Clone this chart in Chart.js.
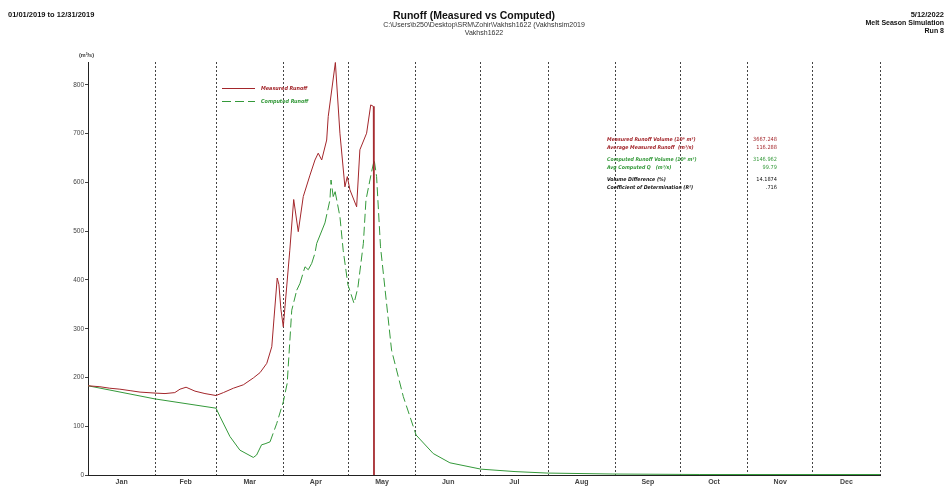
<!DOCTYPE html>
<html>
<head>
<meta charset="utf-8">
<script src="https://cdn.jsdelivr.net/npm/chart.js@4/dist/chart.umd.min.js"></script>
<style>
  html, body { margin: 0; padding: 0; background: #fff; }
  #wrap { position: relative; width: 947px; height: 486px; }
  canvas { display: block; }
</style>
</head>
<body>
<div id="wrap"><canvas id="c" width="947" height="486"></canvas></div>
<script>
// ---- data (day of year, value in m3/s) ----
const monthNames = ["Jan","Feb","Mar","Apr","May","Jun","Jul","Aug","Sep","Oct","Nov","Dec"];
const monthStarts = [0,31,59,90,120,151,181,212,243,273,304,334,365];
const yTicks = [0,100,200,300,400,500,600,700,800];

const measuredDays   = [0,5.5,10,14.7,19.4,24,30.9,35.5,40,42.4,45.2,49.3,53.9,59,62.4,67,71.6,76.2,79.3,82.4,84.7,85.7,87.2,88,88.9,90,93,94.8,96.9,99.2,102.3,104.6,106.1,107.7,110,110.7,114,116.1,118.4,119.5,120.7,123.8,125.3,128.4,130.3,131.5,131.8];
const measuredValues = [183,181,178,176,173,170,168,167,169,176,180,172,167,163,169,178,185,199,210,229,263,320,404,390,340,304,461,565,499,571,615,646,660,646,687,735,846,701,591,612,585,550,667,701,759,756,0];

const computedDays   = [0,30.9,59,60.8,65.4,70,76.2,77.7,80,81.6,83.9,87,90,91.8,93.9,96.2,97.7,100,101.5,103.1,104.6,105.4,109.2,111.5,112,113,113.9,116.1,117.6,119.8,122.6,124.4,126.9,128.1,130.7,131.9,133,134.8,139.9,145.3,151.2,159.1,166.8,181.1,196.8,211.5,241.9,282,365];
const computedValues = [183,156,137,120,79,51,36,41,62,64,68,106,150,188,338,379,393,427,421,434,455,475,517,564,605,571,581,530,461,390,352,385,475,564,622,646,612,468,256,161,82,44,25,12,7,4,2,1,1];

const statLabels = ["Measured Runoff Volume (10\u2076 m\u00b3)","Average Measured Runoff  (m\u00b3/s)","Computed Runoff Volume (10\u2076 m\u00b3)","Avg Computed Q   (m\u00b3/s)","Volume Difference (%)","Coefficient of Determination (R\u00b2)"];
const statValues = ["3667.248","116.288","3146.962","99.79","14.1874",".716"];

const RED = "#a3262b";
const GREEN = "#34993a";
const statColors = [RED,RED,GREEN,GREEN,"#111","#111"];

const measuredData = measuredDays.map((d,i)=>({x:d,y:measuredValues[i]}));
const computedData = computedDays.map((d,i)=>({x:d,y:computedValues[i]}));
const monthMids = monthNames.map((m,i)=>(monthStarts[i]+monthStarts[i+1])/2);

const COND = '"DejaVu Sans Condensed", "DejaVu Sans", sans-serif';

const textPlugin = {
  id: 'texts',
  afterDraw(chart) {
    const ctx = chart.ctx;
    ctx.save();
    ctx.textBaseline = 'middle';
    ctx.fillStyle = '#111';
    // header left
    ctx.font = 'bold 7.5px "Liberation Sans", Arial, sans-serif';
    ctx.textAlign = 'left';
    ctx.fillText('01/01/2019 to 12/31/2019', 8, 15);
    // title
    ctx.textAlign = 'center';
    ctx.font = 'bold 10.5px "Liberation Sans", Arial, sans-serif';
    ctx.fillText('Runoff (Measured vs Computed)', 474, 16);
    ctx.font = '7px "Liberation Sans", Arial, sans-serif';
    ctx.fillStyle = '#333';
    ctx.fillText('C:\\Users\\b250\\Desktop\\SRM\\Zohir\\Vakhsh1622 (Vakhshsim2019', 484, 25.5);
    ctx.fillText('Vakhsh1622', 484, 33.5);
    // header right
    ctx.fillStyle = '#111';
    ctx.textAlign = 'right';
    ctx.font = 'bold 7.5px "Liberation Sans", Arial, sans-serif';
    ctx.fillText('5/12/2022', 944, 15);
    ctx.font = 'bold 7px "Liberation Sans", Arial, sans-serif';
    ctx.fillText('Melt Season Simulation', 944, 23);
    ctx.fillText('Run 8', 944, 31);
    // unit
    ctx.textAlign = 'left';
    ctx.font = 'bold 5.5px "Liberation Sans", Arial, sans-serif';
    ctx.fillStyle = '#333';
    ctx.fillText('(m\u00b3/s)', 79, 55);
    // legend
    ctx.lineWidth = 1;
    ctx.strokeStyle = RED;
    ctx.beginPath(); ctx.moveTo(222, 88.5); ctx.lineTo(255, 88.5); ctx.stroke();
    ctx.strokeStyle = GREEN;
    ctx.setLineDash([9,4]);
    ctx.beginPath(); ctx.moveTo(222, 101.5); ctx.lineTo(255, 101.5); ctx.stroke();
    ctx.setLineDash([]);
    ctx.font = 'italic bold 5.4px ' + COND;
    ctx.fillStyle = RED;
    ctx.fillText('Measured Runoff', 261, 88.5);
    ctx.fillStyle = GREEN;
    ctx.fillText('Computed Runoff', 261, 101.5);
    // stats
    const ys = [140,148,160,168,180,188];
    for (let i=0;i<statLabels.length;i++){
      ctx.fillStyle = statColors[i];
      ctx.textAlign = 'left';
      ctx.font = 'italic bold 5.2px ' + COND;
      ctx.fillText(statLabels[i], 607, ys[i]);
      ctx.textAlign = 'right';
      ctx.font = '5.6px ' + COND;
      ctx.fillText(statValues[i], 777, ys[i]);
    }
    ctx.restore();
  }
};

new Chart(document.getElementById('c'), {
  type: 'line',
  data: {
    datasets: [
      {
        label: 'Measured Runoff',
        data: measuredData,
        borderColor: RED,
        borderWidth: 1,
        pointRadius: 0,
        tension: 0,
        fill: false
      },
      {
        label: 'Computed Runoff',
        data: computedData,
        borderColor: GREEN,
        borderWidth: 1,
        pointRadius: 0,
        tension: 0,
        fill: false,
        segment: {
          borderDash: ctx => {
            const dx = Math.abs(ctx.p1.x - ctx.p0.x);
            const dy = Math.abs(ctx.p1.y - ctx.p0.y);
            return (dy / Math.max(dx, 0.001) > 2.5) ? [9,4] : [];
          }
        }
      }
    ]
  },
  options: {
    responsive: false,
    animation: false,
    events: [],
    layout: { padding: { left: 0, top: 62, right: 67, bottom: 0 } },
    plugins: { legend: { display: false }, tooltip: { enabled: false }, title: { display: false } },
    scales: {
      x: {
        type: 'linear',
        min: 0, max: 365,
        position: 'bottom',
        afterBuildTicks: s => { s.ticks = monthStarts.slice(1).map(v=>({value:v})); },
        ticks: { display: false },
        afterFit: s => { s.height = 0; },
        grid: { display: true, drawOnChartArea: true, drawTicks: false, tickLength: 0, color: '#444', lineWidth: 1 },
        border: { display: false, dash: [2,2] }
      },
      xm: {
        type: 'linear',
        min: 0, max: 365,
        position: 'bottom',
        afterBuildTicks: s => { s.ticks = monthMids.map(v=>({value:v})); },
        ticks: {
          autoSkip: false, maxRotation: 0, padding: 3,
          color: '#444',
          font: { family: '"Liberation Sans", Arial, sans-serif', size: 7, weight: 'bold' },
          callback: (v, i) => monthNames[i]
        },
        afterFit: s => { s.height = 11; },
        grid: { display: false, drawTicks: false, tickLength: 0 },
        border: { display: true, color: '#222', width: 1 }
      },
      y: {
        type: 'linear',
        min: 0, max: 847,
        afterBuildTicks: s => { s.ticks = yTicks.map(v=>({value:v})); },
        ticks: {
          color: '#444', padding: 1,
          font: { family: '"Liberation Sans", Arial, sans-serif', size: 6.5 }
        },
        afterFit: s => { s.width = 88; },
        grid: { drawOnChartArea: false, drawTicks: true, tickLength: 3, color: '#444' },
        border: { display: true, color: '#222', width: 1 }
      }
    }
  },
  plugins: [textPlugin]
});
</script>
</body>
</html>
